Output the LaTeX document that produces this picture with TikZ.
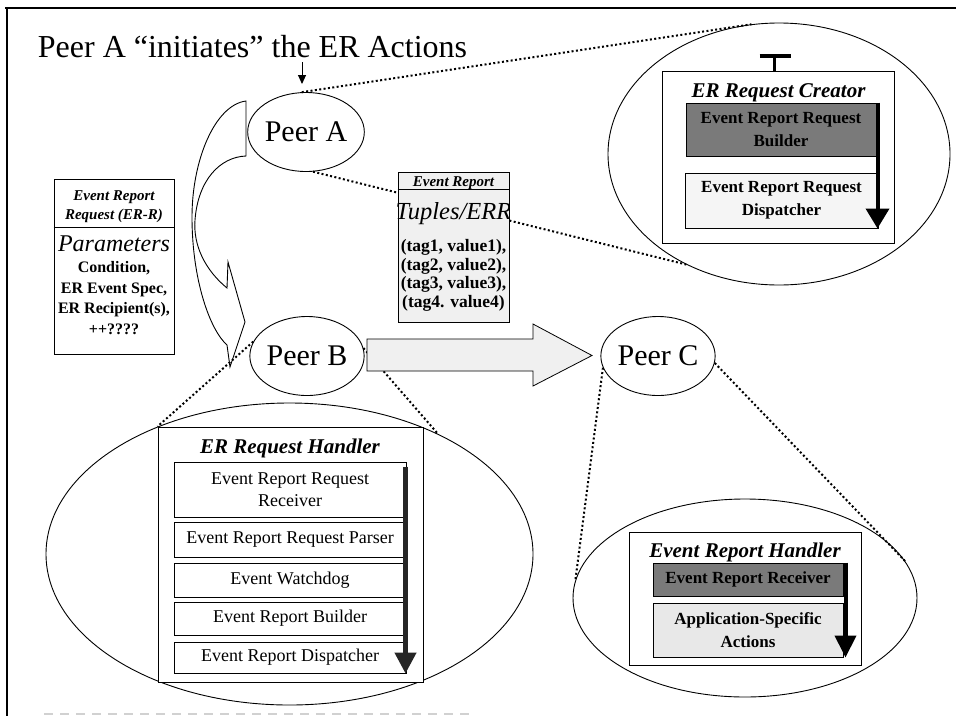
\documentclass[tikz,border=0pt]{standalone}
\usepackage{fontspec}
\setmainfont{Liberation Serif}
\usetikzlibrary{shapes.geometric,arrows.meta}

\tikzset{
  peer/.style={ellipse, draw, line width=0.9pt, minimum width=104pt, minimum height=79pt,
    inner sep=0pt, font=\fontsize{30}{34}\selectfont},
  zoomoval/.style={ellipse, draw, line width=0.9pt, inner sep=0pt},
  panel/.style={rectangle, draw, line width=1pt, fill=white, inner sep=0pt},
  slot/.style={rectangle, draw, line width=1pt, inner sep=0pt, align=center, fill=white},
  darkslot/.style={slot, fill=black!52, font=\bfseries\fontsize{17}{23}\selectfont},
  lightslot/.style={slot, fill=black!6, font=\bfseries\fontsize{17}{23}\selectfont},
  plainslot/.style={slot, font=\fontsize{18}{22}\selectfont},
  paneltitle/.style={anchor=base, inner sep=0pt, font=\bfseries\itshape\fontsize{21}{24}\selectfont},
  dotline/.style={line width=2pt, dash pattern=on 2pt off 2.4pt},
  flow/.style={line width=4pt},
  bigarrow/.style={line width=0.8pt, fill=black!6, line join=miter},
  bendarrow/.style={line width=0.9pt, fill=white, line join=miter},
}

\begin{document}
\begin{tikzpicture}[x=1pt,y=-1pt]
\useasboundingbox (0,0) rectangle (960,718);
\fill[white] (0,0) rectangle (960,718);

% page frame
\draw[line width=2pt] (5,8) -- (956,8);
\draw[line width=2pt] (7,7) -- (7,716);
\draw[black!18, line width=1.2pt, dash pattern=on 9pt off 7pt] (44,714) -- (475,714);

% heading and its pointer
\node[anchor=base, inner sep=0pt, font=\fontsize{32}{38}\selectfont] (title) at (252.5,57)
  {Peer A “initiates” the ER Actions};
\coordinate (cueTail) at (302,62);
\coordinate (cueTip) at (302,84);
\draw[line width=1pt, -{Triangle[width=8pt,length=9pt]}] (cueTail) -- (cueTip);

% bent block arrow from Peer A down to Peer B
\draw[bendarrow] (246,101) .. controls (215,105) and (192,160) .. (192,217)
  .. controls (192,280) and (210,330) .. (227,345) -- (230,367) -- (245,322)
  -- (228,262) -- (227,288) .. controls (205,270) and (193,245) .. (195,220)
  .. controls (198,180) and (220,157) .. (246,156) -- cycle;

% peers
\node[peer] (peerA) at (306,132) {Peer A};
\node[peer] (peerB) at (307,356) {Peer B};
\node[peer] (peerC) at (658,356) {Peer C};

% enlarged views
\node[zoomoval, minimum width=342pt, minimum height=262pt] (creatorOval) at (779,154) {};
\node[zoomoval, minimum width=487pt, minimum height=302pt] (handlerOval) at (289.5,554) {};
\node[zoomoval, minimum width=344pt, minimum height=198pt] (reportOval) at (745,598) {};

% ER Request Creator
\node[panel, minimum width=232pt, minimum height=172pt] (creatorPanel) at (778,157) {};
\node[paneltitle] (creatorTitle) at (778.5,97) {ER Request Creator};
\node[darkslot, minimum width=190pt, minimum height=53pt] (builderSlot) at (781,129.5)
  {Event Report Request\\Builder};
\node[lightslot, fill=black!4, minimum width=193pt, minimum height=55pt] (reqDispatchSlot) at (781.5,200.5)
  {Event Report Request\\Dispatcher};
\draw[flow, -{Triangle[width=23pt,length=20pt]}]
  ([xshift=1pt]builderSlot.north east) -- ([xshift=-1pt]reqDispatchSlot.south east);
\coordinate (handleTop) at (774,56);
\draw[line width=3pt] (handleTop) -- (handleTop |- creatorPanel.north);
\draw[line width=3.5pt] ([xshift=-14.5pt]handleTop) -- ([xshift=17pt]handleTop);

% ER Request Handler
\node[panel, minimum width=265pt, minimum height=255pt] (handlerPanel) at (290.5,554.5) {};
\node[paneltitle] (handlerTitle) at (290,453) {ER Request Handler};
\node[plainslot, minimum width=232pt, minimum height=55pt] (receiverSlot) at (290,489.5)
  {Event Report Request\\Receiver};
\node[plainslot, minimum width=232pt, minimum height=35pt] (parserSlot) at (290,539.5)
  {Event Report Request Parser};
\node[plainslot, minimum width=232pt, minimum height=34pt] (watchdogSlot) at (290,580)
  {Event Watchdog};
\node[plainslot, minimum width=232pt, minimum height=33pt] (reportBuilderSlot) at (290,618.5)
  {Event Report Builder};
\node[plainslot, minimum width=232pt, minimum height=31pt] (reportDispatchSlot) at (290,657.5)
  {Event Report Dispatcher};
\draw[flow, line width=4.5pt, black!85, -{Triangle[width=21pt,length=21pt]}]
  ([xshift=-1pt,yshift=-5pt]receiverSlot.north east) -- ([xshift=-1pt]reportDispatchSlot.south east);

% Event Report Handler
\node[panel, minimum width=232pt, minimum height=133pt] (reportPanel) at (745,598.5) {};
\node[paneltitle] (reportTitle) at (745,557) {Event Report Handler};
\node[darkslot, minimum width=190pt, minimum height=33pt] (receiveSlot) at (748,579.5)
  {Event Report Receiver};
\node[lightslot, fill=black!9, minimum width=190pt, minimum height=54pt] (actionSlot) at (748,630)
  {Application-Specific\\Actions};
\draw[flow, -{Triangle[width=21pt,length=22pt]}]
  ([xshift=2pt]receiveSlot.north east) -- ([xshift=2pt]actionSlot.south east);

% dotted links from the peers to their enlarged views
\draw[dotline] (peerA.96) -- (creatorOval.102.6);
\draw[dotline] (peerA.280) -- (creatorOval.230.3);
\draw[dotline] (peerB.165) -- (handlerPanel.north west);
\draw[dotline] (peerB.8) -- (handlerOval.39);
\draw[dotline] (peerC.192) -- (reportOval.174);
\draw[dotline] (peerC.353) -- (reportOval.13.2);

% event report message
\node[panel, fill=black!6, minimum width=111pt, minimum height=150pt] (errBox) at (453.5,247) {};
\draw[line width=0.8pt] ([yshift=-18pt]errBox.north west) -- ([yshift=-18pt]errBox.north east);
\node[anchor=base, inner sep=0pt, font=\bfseries\itshape\fontsize{15}{17}\selectfont] (errHead)
  at (453.5,186) {Event Report};
\begin{scope}
  \clip (errBox.north west) rectangle (errBox.south east);
  \node[anchor=base, inner sep=0pt, font=\itshape\fontsize{24.5}{28}\selectfont] (errTuples)
    at (453.5,219) {Tuples/ERR};
\end{scope}
\node[align=center, inner sep=0pt, font=\bfseries\fontsize{17.5}{18.5}\selectfont] (errTags)
  at (453.5,275.5) {(tag1, value1),\\(tag2, value2),\\(tag3, value3),\\(tag4. value4)};

% transfer arrow from Peer B to Peer C
\draw[bigarrow] (367,339) -- (533,339) -- (533,324) -- (592,355.5) -- (533,386)
  -- (533,371) -- (367,371) -- cycle;

% event report request
\node[panel, minimum width=120pt, minimum height=175pt] (errRBox) at (114,266.5) {};
\draw[line width=0.8pt] ([yshift=-49pt]errRBox.north west) -- ([yshift=-49pt]errRBox.north east);
\node[align=center, inner sep=0pt, font=\bfseries\itshape\fontsize{15}{19}\selectfont] (errRHead)
  at (114,206.5) {Event Report\\Request (ER-R)};
\node[anchor=base, inner sep=0pt, font=\itshape\fontsize{24}{28}\selectfont] (errRParams)
  at (114,251) {Parameters};
\node[align=center, inner sep=0pt, font=\bfseries\fontsize{16}{20.5}\selectfont] (errRList)
  at (114,298) {Condition,\\ER Event Spec,\\ER Recipient(s),\\++????};

\end{tikzpicture}
\end{document}
